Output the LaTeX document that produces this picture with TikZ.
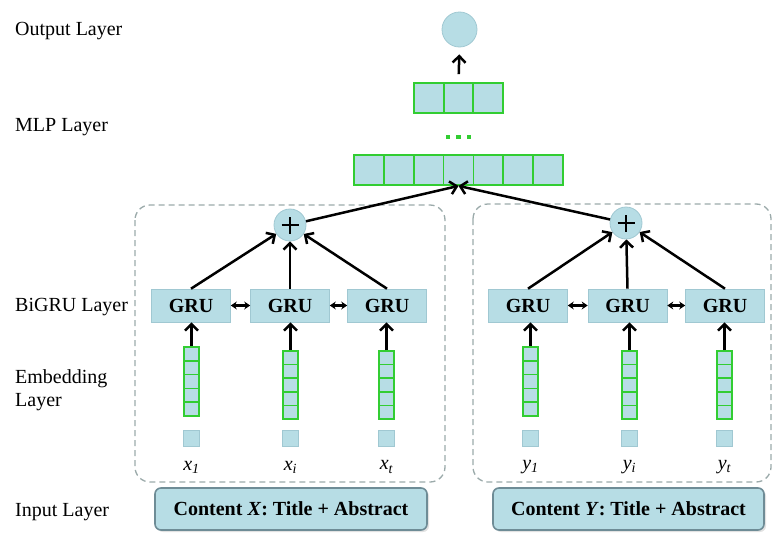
\documentclass[tikz,border=0pt]{standalone}
\usepackage{fontspec}
\setmainfont{Liberation Serif}
\usetikzlibrary{arrows.meta,shadows}
\definecolor{lb}{RGB}{183,221,229}
\definecolor{lbd}{RGB}{160,200,210}
\definecolor{gr}{RGB}{50,205,50}
\definecolor{dgray}{RGB}{155,170,170}
\definecolor{inb}{RGB}{110,140,150}
\tikzset{
  lbl/.style={anchor=west,font=\fontsize{20}{23}\selectfont,inner sep=0pt,align=left},
  grubox/.style={fill=lb,draw=lbd,line width=0.6pt,minimum width=79pt,minimum height=33pt,inner sep=0pt,font=\fontsize{20}{22}\selectfont\bfseries},
  plusc/.style={circle,fill=lb,draw=lbd,line width=0.8pt,minimum size=32pt,inner sep=0pt},
  plusbar/.style={line width=2.8pt},
  outc/.style={circle,fill=lb,draw=lbd,line width=0.8pt,minimum size=35pt,inner sep=0pt},
  embcol/.style={draw=gr,fill=lb,line width=1.8pt,minimum width=15pt,inner sep=0pt},
  mlpbox/.style={draw=gr,fill=lb,line width=1.8pt,minimum height=30pt,inner sep=0pt},
  tok/.style={fill=lb,draw=lbd,line width=0.5pt,minimum size=16pt,inner sep=0pt},
  tlab/.style={font=\fontsize{20}{22}\selectfont\itshape,inner sep=0pt},
  dbox/.style={draw=dgray,line width=1.3pt,dash pattern=on 6pt off 4pt,rounded corners=15pt},
  inbox/.style={draw=inb,fill=lb,line width=1.6pt,rounded corners=6pt,minimum height=42pt,inner sep=0pt,font=\fontsize{20}{22}\selectfont\bfseries,drop shadow={shadow xshift=2pt,shadow yshift=-2pt,fill=gray!45}},
  arr/.style={-{Straight Barb[length=6.5pt,width=13pt,line width=2.5pt]},line width=2.5pt},
  darr/.style={{Stealth[length=6pt,width=8pt]}-{Stealth[length=6pt,width=8pt]},line width=2.2pt},
}
\begin{document}
\begin{tikzpicture}[x=1pt,y=-1pt]
\useasboundingbox (0,0) rectangle (772,533);
% left labels
\node[lbl] (lout) at (15,31) {Output Layer};
\node[lbl] (lmlp) at (15,127) {MLP Layer};
\node[lbl] (lgru) at (15,307) {BiGRU Layer};
\node[lbl] (lemb) at (15,390) {Embedding\\Layer};
\node[lbl] (lin) at (15,512) {Input Layer};
% dashed boxes
\draw[dbox] (135,205) rectangle (445,482);
\draw[dbox] (473,204) rectangle (771,482);
% output and MLP
\node[outc] (out) at (459.5,29.5) {};
\node[mlpbox,minimum width=89pt] (m2) at (458.5,98) {};
\foreach \i in {1,2} \draw[gr,line width=1.8pt] (414+\i*29.67,83) -- (414+\i*29.67,113);
\node[mlpbox,minimum width=209pt] (m1) at (458.5,170) {};
\foreach \i in {1,...,6} \draw[gr,line width=1.8pt] (354+\i*29.86,155) -- (354+\i*29.86,185);
\foreach \x [count=\k] in {448,458.5,469} \node[fill=gr,minimum size=4.5pt,inner sep=0pt] (dot\k) at (\x,137) {};
\draw[arr,shorten <=8pt,shorten >=7pt] (m2.north) -- (out.south);
% plus circles
\node[plusc] (p1) at (290,225) {};
\node[plusc] (p2) at (626,223) {};
\foreach \p in {p1,p2} {
  \draw[plusbar] ([xshift=-8.5pt]\p.center) -- ([xshift=8.5pt]\p.center);
  \draw[plusbar] ([yshift=-8.5pt]\p.center) -- ([yshift=8.5pt]\p.center);
}
\draw[arr] (p1) -- (m1.south);
\draw[arr] (p2) -- (m1.south);
% GRU boxes
\foreach \x [count=\k] in {191,290,387} \node[grubox] (ga\k) at (\x,305.5) {GRU};
\foreach \x [count=\k] in {528,627.5,725} \node[grubox] (gb\k) at (\x,305.5) {GRU};
\draw[darr] (ga1) -- (ga2);
\draw[darr] (ga2) -- (ga3);
\draw[darr] (gb1) -- (gb2);
\draw[darr] (gb2) -- (gb3);
\foreach \k in {1,2,3} {
  \draw[arr] (ga\k.north) -- (p1);
  \draw[arr] (gb\k.north) -- (p2);
}
% embedding columns
\foreach \x/\t/\b/\nm in {191.5/347/416/ea1,290.5/351/419/ea2,386.5/351/419/ea3,530.5/347/416/eb1,629.5/351/419/eb2,724.5/351/419/eb3} {
  \node[embcol,minimum height={\b-\t}] (\nm) at (\x,{(\t+\b)/2}) {};
  \foreach \j in {1,...,4} \draw[gr,line width=1.5pt] (\x-7.5,{\t+\j*(\b-\t)/5}) -- (\x+7.5,{\t+\j*(\b-\t)/5});
}
\foreach \k in {1,2,3} {
  \draw[arr] (ea\k.north) -- (ea\k.north |- ga\k.south);
  \draw[arr] (eb\k.north) -- (eb\k.north |- gb\k.south);
}
% tokens
\foreach \x [count=\k] in {191.5,290.5,386.5} \node[tok] (ta\k) at (\x,438) {};
\foreach \x [count=\k] in {530.5,629.5,724.5} \node[tok] (tb\k) at (\x,438) {};
\node[tlab] (xa1) at (191.5,467) {x\textsubscript{1}};
\node[tlab] (xa2) at (290.5,467) {x\textsubscript{i}};
\node[tlab] (xa3) at (386.5,467) {x\textsubscript{t}};
\node[tlab] (ya1) at (530.5,467) {y\textsubscript{1}};
\node[tlab] (ya2) at (629.5,467) {y\textsubscript{i}};
\node[tlab] (ya3) at (724.5,467) {y\textsubscript{t}};
% input boxes
\node[inbox,minimum width=272pt] (inx) at (291,509) {Content \textit{X}: Title + Abstract};
\node[inbox,minimum width=271pt] (iny) at (628.5,509) {Content \textit{Y}: Title + Abstract};
\end{tikzpicture}
\end{document}
